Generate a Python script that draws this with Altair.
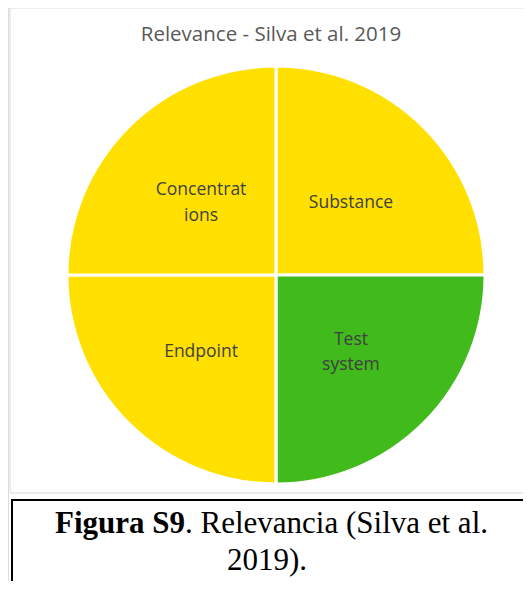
import altair as alt
import pandas as pd

categories = ["Substance", "Test system", "Endpoint", "Concentrations"]
label_texts = ["Substance", "Test\nsystem", "Endpoint", "Concentrat\nions"]
values = [1, 1, 1, 1]
slice_colors = ["#FFE000", "#41BA1C", "#FFE000", "#FFE000"]
order_idx = [0, 1, 2, 3]

title_text = "Relevance - Silva et al. 2019"
caption_bold = "Figura S9"
caption_rest = ". Relevancia (Silva et al."
caption_line2 = "2019)."

df = pd.DataFrame({"category": categories, "label": label_texts,
                   "value": values, "idx": order_idx})
df["single"] = [t if "\n" not in t else "" for t in label_texts]
df["multi"] = [t if "\n" in t else "" for t in label_texts]

CX, CY = 268, 267

base = alt.Chart(df).encode(
    theta=alt.Theta("value:Q", stack=True),
    order=alt.Order("idx:Q"),
)

pie = base.mark_arc(outerRadius=209, stroke="white", strokeWidth=3).encode(
    color=alt.Color("category:N",
                    scale=alt.Scale(domain=categories, range=slice_colors),
                    legend=None),
    x=alt.value(CX), y=alt.value(CY),
)

text_style = dict(radius=106, font="Open Sans", fontSize=17.5, color="#404040",
                  lineBreak="\n", lineHeight=25.5, align="center", baseline="middle")

labels1 = base.mark_text(dy=2.5, **text_style).encode(
    text="single:N", x=alt.value(CX), y=alt.value(CY))
labels2 = base.mark_text(dy=-10, **text_style).encode(
    text="multi:N", x=alt.value(CX), y=alt.value(CY))

one = pd.DataFrame({"a": [0]})

frame = alt.Chart(one).mark_rect(fill="white", stroke="#D9D9D9", strokeWidth=1).encode(
    x=alt.value(2), x2=alt.value(600), y=alt.value(0), y2=alt.value(485))

title = alt.Chart(one).mark_text(font="Open Sans", fontSize=20.5, color="#595959",
                                 align="center", baseline="alphabetic").encode(
    x=alt.value(263), y=alt.value(33), text=alt.value(title_text))

capbox = alt.Chart(one).mark_rect(fill="white", stroke="black", strokeWidth=2).encode(
    x=alt.value(4), x2=alt.value(600), y=alt.value(492), y2=alt.value(700))

cap1a = alt.Chart(one).mark_text(font="Liberation Serif", fontSize=31, fontWeight="bold",
                                 color="black", align="right", baseline="alphabetic").encode(
    x=alt.value(177), y=alt.value(525), text=alt.value(caption_bold))
cap1b = alt.Chart(one).mark_text(font="Liberation Serif", fontSize=31,
                                 color="black", align="left", baseline="alphabetic").encode(
    x=alt.value(177), y=alt.value(525), text=alt.value(caption_rest))
cap2 = alt.Chart(one).mark_text(font="Liberation Serif", fontSize=31,
                                color="black", align="center", baseline="alphabetic").encode(
    x=alt.value(259), y=alt.value(562), text=alt.value(caption_line2))

chart = alt.layer(frame, pie, labels1, labels2, title, capbox, cap1a, cap1b, cap2).properties(
    width=515, height=573,
    autosize=alt.AutoSizeParams(type="none"),
    padding=0,
).configure_view(stroke=None).configure(background="white")

chart.save("out.html", embed_options={"renderer": "svg", "actions": False})
